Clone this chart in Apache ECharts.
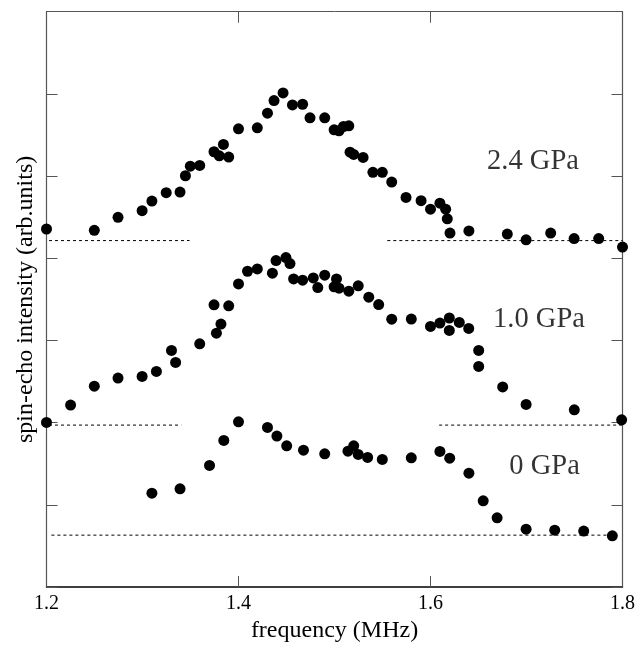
<!DOCTYPE html>
<html>
<head>
<meta charset="utf-8">
<script src="https://cdn.jsdelivr.net/npm/echarts@6/dist/echarts.min.js"></script>
<style>
html,body{margin:0;padding:0;background:#fff;}
#chart{width:641px;height:648px;}
</style>
</head>
<body>
<div id="chart"></div>
<script>
// ---- data ----
const xTicks = [1.2, 1.4, 1.6, 1.8];

const gpa24 = [
  [1.200,4.356],[1.2498,4.340],[1.2745,4.498],[1.2996,4.579],[1.3098,4.696],[1.3247,4.798],
  [1.3391,4.806],[1.3447,5.004],[1.3498,5.121],[1.3596,5.130],[1.3745,5.296],[1.3800,5.247],
  [1.3843,5.385],[1.3898,5.231],[1.4000,5.575],[1.4196,5.587],[1.4302,5.765],[1.4370,5.919],
  [1.4464,6.012],[1.4562,5.866],[1.4668,5.874],[1.4745,5.709],[1.4898,5.709],[1.4996,5.563],
  [1.5047,5.551],[1.5094,5.603],[1.5149,5.611],[1.5162,5.291],[1.5200,5.263],[1.5298,5.227],
  [1.5400,5.045],[1.5498,5.045],[1.5596,4.927],[1.5745,4.740],[1.5902,4.700],[1.6000,4.597],
  [1.6098,4.670],[1.6158,4.597],[1.6175,4.480],[1.6203,4.306],[1.6400,4.332],[1.6800,4.294],
  [1.6996,4.224],[1.7252,4.306],[1.7496,4.240],[1.7752,4.240],[1.8000,4.136]
];

const gpa10 = [
  [1.200,2.002],[1.2251,2.213],[1.2498,2.444],[1.2745,2.542],[1.2996,2.562],[1.3145,2.623],
  [1.3302,2.878],[1.3345,2.732],[1.3596,2.959],[1.3770,3.089],[1.3817,3.199],[1.3745,3.433],
  [1.3898,3.421],[1.4000,3.688],[1.4094,3.842],[1.4196,3.870],[1.4353,3.818],[1.4391,3.972],
  [1.4494,4.008],[1.4536,3.935],[1.4574,3.749],[1.4668,3.733],[1.4779,3.761],[1.4826,3.644],
  [1.4898,3.794],[1.4996,3.652],[1.5021,3.749],[1.5047,3.636],[1.5149,3.599],[1.5247,3.664],
  [1.5357,3.526],[1.5460,3.437],[1.5596,3.259],[1.5800,3.260],[1.6000,3.170],[1.6098,3.212],
  [1.6196,3.273],[1.6196,3.122],[1.6300,3.219],[1.6398,3.146],[1.6502,2.879],[1.6502,2.684],
  [1.6752,2.434],[1.6996,2.221],[1.7498,2.156],[1.7991,2.034]
];

const gpa0 = [
  [1.3098,1.142],[1.3391,1.195],[1.3698,1.479],[1.3847,1.783],[1.4000,2.010],[1.4302,1.941],
  [1.4400,1.836],[1.4502,1.718],[1.4677,1.665],[1.4898,1.621],[1.5140,1.653],[1.5200,1.718],
  [1.5247,1.613],[1.5345,1.576],[1.5498,1.552],[1.5800,1.572],[1.6098,1.649],[1.6200,1.568],
  [1.6400,1.385],[1.6549,1.049],[1.6694,0.842],[1.6996,0.704],[1.7294,0.692],[1.7596,0.680],
  [1.7894,0.623]
];

// baselines: level and x-extents of each dotted segment
const base24Level = 4.215;
const base24Segs = [[1.2026, 1.349], [1.555, 1.8]];
const base10Level = 1.970;
const base10Segs = [[1.2026, 1.3404], [1.609, 1.8]];
const base0Level = 0.631;
const base0Segs = [[1.2051, 1.79]];

const seriesLabels = ['2.4 GPa', '1.0 GPa', '0 GPa'];
const labelPos = [[1.7068, 5.176], [1.713, 3.252], [1.7188, 1.468]];

// ---- chart ----
const FONT = '"Liberation Serif", "Times New Roman", serif';
const chart = echarts.init(document.getElementById('chart'), null, {renderer: 'canvas'});

function baseSeries(level, segs) {
  return segs.map(s => ({
    type: 'line',
    data: [[s[0], level], [s[1], level]],
    symbol: 'none',
    silent: true,
    lineStyle: {color: '#000', width: 1, type: [3, 3]},
    z: 1
  }));
}

function dots(data) {
  return {
    type: 'scatter',
    data: data,
    symbol: 'circle',
    symbolSize: 11,
    itemStyle: {color: '#000', opacity: 1},
    z: 3
  };
}

const axisTickCommon = {show: true, inside: true, length: 11, lineStyle: {color: '#555', width: 1}};

const option = {
  animation: false,
  backgroundColor: '#fff',
  grid: {left: 46.5, right: 18.5, top: 11.7, bottom: 60.5, containLabel: false},
  xAxis: [
    {
      type: 'value', min: 1.2, max: 1.8, interval: 0.2, position: 'bottom',
      axisLine: {show: true, onZero: false, lineStyle: {color: '#000', width: 1.5}},
      axisTick: axisTickCommon,
      splitLine: {show: false},
      axisLabel: {
        color: '#000', fontFamily: FONT, fontSize: 20, margin: 7,
        formatter: v => v.toFixed(1)
      },
      name: 'frequency (MHz)', nameLocation: 'middle', nameGap: 32,
      nameTextStyle: {color: '#000', fontFamily: FONT, fontSize: 24}
    },
    {
      type: 'value', min: 1.2, max: 1.8, interval: 0.2, position: 'top',
      axisLine: {show: true, onZero: false, lineStyle: {color: '#555', width: 1}},
      axisTick: axisTickCommon,
      splitLine: {show: false},
      axisLabel: {show: false}
    }
  ],
  yAxis: [
    {
      type: 'value', min: 0, max: 7, interval: 1, position: 'left',
      axisLine: {show: true, onZero: false, lineStyle: {color: '#555', width: 1.2}},
      axisTick: axisTickCommon,
      splitLine: {show: false},
      axisLabel: {show: false},
      name: 'spin-echo intensity (arb.units)', nameLocation: 'middle', nameGap: 9,
      nameTextStyle: {color: '#000', fontFamily: FONT, fontSize: 24}
    },
    {
      type: 'value', min: 0, max: 7, interval: 1, position: 'right',
      axisLine: {show: true, onZero: false, lineStyle: {color: '#555', width: 1.2}},
      axisTick: axisTickCommon,
      splitLine: {show: false},
      axisLabel: {show: false}
    }
  ],
  series: [
    ...baseSeries(base24Level, base24Segs),
    ...baseSeries(base10Level, base10Segs),
    ...baseSeries(base0Level, base0Segs),
    dots(gpa24),
    dots(gpa10),
    dots(gpa0),
    {
      type: 'scatter',
      symbolSize: 0,
      silent: true,
      data: labelPos.map((p, i) => ({value: p, name: seriesLabels[i]})),
      label: {
        show: true, position: 'inside', formatter: p => p.name,
        color: '#000', fontFamily: FONT, fontSize: 28.5
      },
      z: 4
    }
  ]
};
chart.setOption(option);
</script>
</body>
</html>
